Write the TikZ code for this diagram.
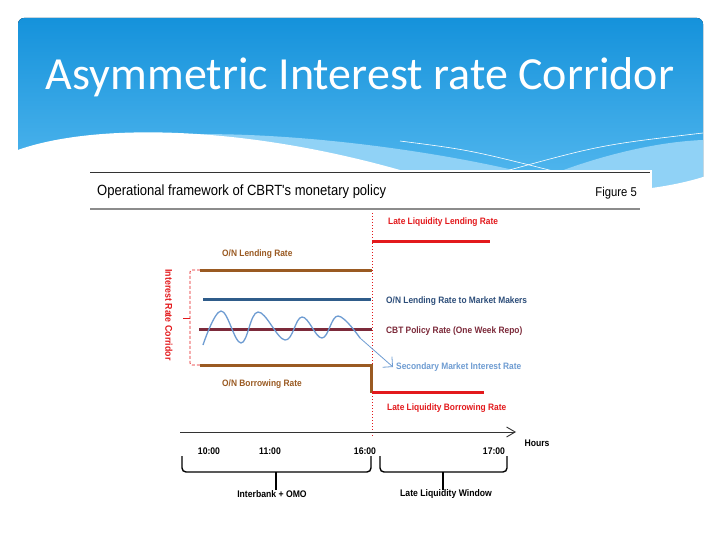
\documentclass[tikz,border=0pt]{standalone}
\usepackage{fontspec}
\setmainfont{Liberation Sans}
\newfontfamily\titlefont{Carlito}
\newfontfamily\headfont[FakeStretch=0.88]{Liberation Sans}
\newfontfamily\chartfont[FakeStretch=0.9]{Liberation Sans}
\usetikzlibrary{arrows.meta,positioning}
\definecolor{skytop}{HTML}{1592DB}
\definecolor{skybot}{HTML}{5CBDF1}
\definecolor{skylight}{HTML}{90D2F6}
\definecolor{ratered}{HTML}{E3191C}
\definecolor{ratebrown}{HTML}{9A5A22}
\definecolor{rateblue}{HTML}{2F5C8A}
\definecolor{ratemaroon}{HTML}{7C2A3A}
\definecolor{marketblue}{HTML}{6E9CD2}
\definecolor{labelblue}{HTML}{2D4E7A}
\tikzset{
  ratebar/.style={line width=3pt},
  ratelabel/.style={
    anchor=west, inner sep=0pt,
    font=\chartfont\bfseries\fontsize{9.3}{11}\selectfont
  },
  timelabel/.style={
    inner sep=0pt, text=black,
    font=\chartfont\bfseries\fontsize{9.6}{11}\selectfont
  },
  bracket/.style={line width=1.4pt, rounded corners=4pt},
}

\begin{document}
\begin{tikzpicture}[x=1pt, y=-1pt]
  \useasboundingbox (0,0) rectangle (720,540);

  % slide header
  \fill[top color=skytop, bottom color=skybot, rounded corners=6pt]
    (18,18) rectangle (703,210);
  \fill[skylight] (130,138) .. controls (250,124) and (450,150) .. (560,182)
    -- (560,210) -- (130,210) -- cycle;
  \fill[skylight] (703,140) .. controls (650,142) and (580,160) .. (520,188)
    -- (703,210) -- cycle;
  \draw[white, line width=0.6pt] (400,141) .. controls (470,150) .. (565,174);
  \draw[white, line width=0.6pt] (703,133) .. controls (600,145) .. (495,174);
  \fill[white] (10,153) .. controls (80,124) and (230,122) .. (400,170)
    .. controls (500,198) and (630,200) .. (703,177)
    -- (715,177) -- (715,545) -- (5,545) -- cycle;
  \node[text=white, font=\titlefont\fontsize{46}{50}\selectfont] (title) at (360,77)
    {Asymmetric Interest rate Corridor};

  % figure frame
  \fill[white] (88,170) rectangle (652,545);
  \draw[black!80, line width=1pt] (90,173) -- (650,173);
  \draw[black!45, line width=1.6pt] (90,209) -- (640,209);
  \node[anchor=west, inner sep=0pt, font=\headfont\fontsize{14.8}{17}\selectfont] (fig) at (97,192)
    {Operational framework of CBRT's monetary policy};
  \node[anchor=east, inner sep=0pt, font=\headfont\fontsize{12.8}{15}\selectfont] (fignum) at (637,193)
    {Figure 5};

  % window boundary
  \draw[ratered, dotted, line width=1pt] (372,213) -- (372,437);

  % rates
  \draw[ratebar, ratered] (372,241) -- (490,241);
  \draw[ratebar, ratebrown] (200,270) -- (372,270);
  \draw[ratebar, rateblue] (203,299) -- (371,299);
  \draw[ratebar, ratemaroon] (199,329) -- (372,329);
  \draw[ratebar, ratebrown] (200,365) -- (371,365) -- (371,393);
  \draw[ratebar, ratered] (372,392) -- (484,392);

  \node[ratelabel, text=ratered] (lllend) at (388,222) {Late Liquidity Lending Rate};
  \node[ratelabel, text=ratebrown] (onlend) at (222,254) {O/N Lending Rate};
  \node[ratelabel, text=labelblue] (onmm) at (386,301) {O/N Lending Rate to Market Makers};
  \node[ratelabel, text=ratemaroon] (cbt) at (386,331) {CBT Policy Rate (One Week Repo)};
  \node[ratelabel, text=marketblue] (sec) at (396,367) {Secondary Market Interest Rate};
  \node[ratelabel, text=ratebrown] (onbor) at (222,384) {O/N Borrowing Rate};
  \node[ratelabel, text=ratered] (llbor) at (387,408) {Late Liquidity Borrowing Rate};

  % secondary market rate
  \draw[marketblue, line width=1.3pt] plot[smooth, tension=0.65] coordinates {
    (203,345) (221,311) (241,343) (258,312) (285,340) (302,317)
    (322,338) (338,316) (360,338)};
  \coordinate (wend) at (360,338);
  \draw[marketblue, line width=0.8pt, -{Straight Barb[length=2.5mm]}]
    (wend) -- ([xshift=-3pt]sec.west);

  % corridor bracket
  \draw[ratered, densely dashed, line width=0.8pt, rounded corners=2pt]
    (200,270) -- (190,270) -- (190,365) -- (200,365);
  \draw[ratered, line width=0.8pt] (190,318) -- (183,318);
  \node[rotate=-90, inner sep=0pt, text=ratered,
    font=\chartfont\bfseries\fontsize{9.8}{11}\selectfont] (corr) at (169,315)
    {Interest Rate Corridor};

  % time axis
  \coordinate (ax0) at (180,432);
  \coordinate (ax1) at (516,432);
  \draw[black!80, line width=0.9pt, -{Straight Barb[length=3mm, width=3.5mm]}] (ax0) -- (ax1);
  \node[timelabel] (hours) at (537,443) {Hours};
  \node[timelabel] (t10) at (209,451) {10:00};
  \node[timelabel] (t11) at (270,451) {11:00};
  \node[timelabel] (t16) at (365,451) {16:00};
  \node[timelabel] (t17) at (494,451) {17:00};

  % trading windows
  \draw[bracket] (182,456) -- (182,472) -- (371,472) -- (371,456);
  \draw[bracket] (276,472) -- (276,490);
  \draw[bracket] (380,456) -- (380,472) -- (507,472) -- (507,456);
  \draw[bracket] (443,472) -- (443,490);
  \node[timelabel] (interbank) at (272,494) {Interbank + OMO};
  \node[timelabel] (latewin) at (446,494) {Late Liquidity Window};
\end{tikzpicture}
\end{document}
